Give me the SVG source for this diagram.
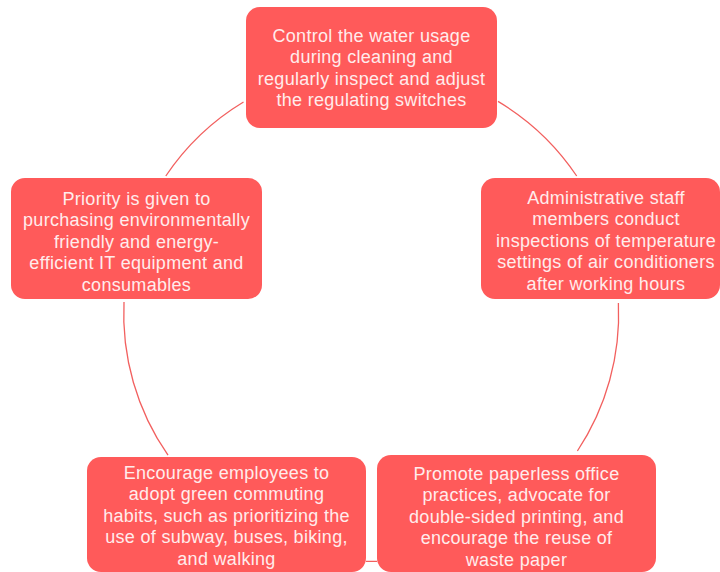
<svg xmlns="http://www.w3.org/2000/svg" width="720" height="572" viewBox="0 0 720 572">
<style>
.box{fill:#FF5A5A;}
.t{font-family:"Liberation Sans",Arial,sans-serif;font-size:18px;letter-spacing:0.3px;fill:#FFECEC;text-anchor:middle;}
.arc{fill:none;stroke:#F2605F;stroke-width:1.3;}
</style>
<rect width="720" height="572" fill="#FFFFFF"/>
<g id="connectors">
<path class="arc" d="M 498 101.4 A 247.5 247.5 0 0 1 576.7 176"/>
<path class="arc" d="M 618.4 303 A 247.5 247.5 0 0 1 577.4 451"/>
<path class="arc" d="M 377 561.4 A 247.5 247.5 0 0 1 366 561.4"/>
<path class="arc" d="M 168 455.2 A 247.5 247.5 0 0 1 124 302"/>
<path class="arc" d="M 165.8 176 A 247.5 247.5 0 0 1 243.5 102"/>
</g>
<g id="node-water">
<rect class="box" x="246" y="7" width="251" height="121" rx="14"/>
<text class="t" x="371.5" y="41.5">Control the water usage</text>
<text class="t" x="371.5" y="63">during cleaning and</text>
<text class="t" x="371.5" y="84.5">regularly inspect and adjust</text>
<text class="t" x="371.5" y="106">the regulating switches</text>
</g>
<g id="node-aircon">
<rect class="box" x="481" y="178" width="239" height="121" rx="14"/>
<text class="t" x="606" y="203.5">Administrative staff</text>
<text class="t" x="606" y="225">members conduct</text>
<text class="t" x="606" y="246.5">inspections of temperature</text>
<text class="t" x="606" y="268">settings of air conditioners</text>
<text class="t" x="606" y="289.5">after working hours</text>
</g>
<g id="node-paper">
<rect class="box" x="377" y="455" width="279" height="117" rx="14"/>
<text class="t" x="516.5" y="479.5">Promote paperless office</text>
<text class="t" x="516.5" y="501">practices, advocate for</text>
<text class="t" x="516.5" y="522.5">double-sided printing, and</text>
<text class="t" x="516.5" y="544">encourage the reuse of</text>
<text class="t" x="516.5" y="565.5">waste paper</text>
</g>
<g id="node-commute">
<rect class="box" x="87" y="457" width="279" height="115" rx="14"/>
<text class="t" x="226.5" y="478.5">Encourage employees to</text>
<text class="t" x="226.5" y="500">adopt green commuting</text>
<text class="t" x="226.5" y="521.5">habits, such as prioritizing the</text>
<text class="t" x="226.5" y="543">use of subway, buses, biking,</text>
<text class="t" x="226.5" y="564.5">and walking</text>
</g>
<g id="node-it">
<rect class="box" x="11" y="178" width="251" height="121" rx="14"/>
<text class="t" x="136.5" y="204.5">Priority is given to</text>
<text class="t" x="136.5" y="226">purchasing environmentally</text>
<text class="t" x="136.5" y="247.5">friendly and energy-</text>
<text class="t" x="136.5" y="269">efficient IT equipment and</text>
<text class="t" x="136.5" y="290.5">consumables</text>
</g>
</svg>
